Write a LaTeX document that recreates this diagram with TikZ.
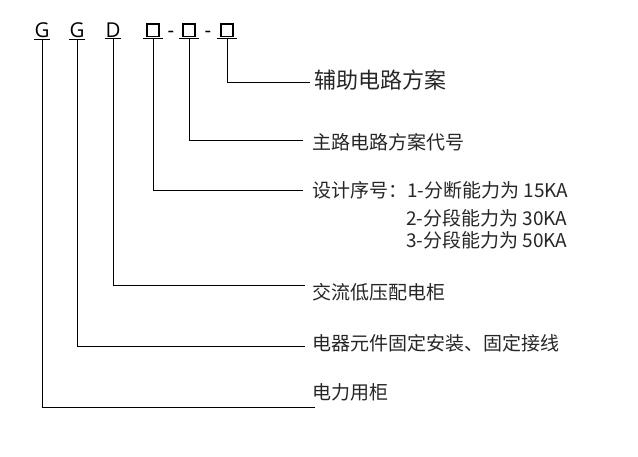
\documentclass[tikz,border=0pt]{standalone}
\usepackage{fontspec}
\usepackage{xcolor}
\usepackage{tikz}
\newfontfamily\cjk{Noto Sans CJK SC}
\newfontfamily\latin{Open Sans}
\newcommand{\slotbox}{{\setlength{\fboxsep}{0pt}\setlength{\fboxrule}{1.6pt}\raisebox{1.5pt}{\fbox{\rule{0pt}{11pt}\hspace{10pt}}}}}

\begin{document}
\begin{tikzpicture}[x=1pt,y=-1pt,
	code/.style={font=\latin\fontsize{20.5}{22}\selectfont, anchor=base, inner xsep=0pt, inner ysep=1.5pt, minimum width=14pt},
	slot/.style={code, minimum width=20pt},
	lbl/.style={font=\cjk\fontsize{19}{22}\selectfont, anchor=west, inner sep=0pt, text=black!85},
	lead/.style={line width=0.8pt}]
	\useasboundingbox (0,0) rectangle (638,456);
		\node[code] (g1) at (42,37) {G};
		\node[code] (g2) at (77,37) {G};
		\node[code] (d) at (113,37) {D};
		\node[slot] (s1) at (153,37) {\slotbox};
		\node[code] (h1) at (171,37) {-};
		\node[slot] (s2) at (189,37) {\slotbox};
		\node[code] (h2) at (208,37) {-};
		\node[slot] (s3) at (227,37) {\slotbox};
		\foreach \n in {g1,g2,d,s1,s2,s3}
			\draw[lead] (\n.south west) -- (\n.south east);

		\node[lbl, font=\cjk\fontsize{22}{24}\selectfont] (a1) at (314,80) {辅助电路方案};
		\node[lbl] (a2) at (312,142) {主路电路方案代号};
		\node[lbl] (a3) at (312,190) {设计序号：1-分断能力为 15KA};
		\node[lbl] (a3b) at (406,218) {2-分段能力为 30KA};
		\node[lbl] (a3c) at (406,240) {3-分段能力为 50KA};
		\node[lbl] (a4) at (312,292) {交流低压配电柜};
		\node[lbl] (a5) at (312,343) {电器元件固定安装、固定接线};
		\node[lbl] (a6) at (312,392) {电力用柜};

		\coordinate (e1) at (310,82);
		\coordinate (e2) at (303,140);
		\coordinate (e3) at (303,190);
		\coordinate (e4) at (305,285);
		\coordinate (e5) at (305,346);
		\coordinate (e6) at (315,407);
		\draw[lead] (s3.south) |- (e1);
		\draw[lead] (s2.south) |- (e2);
		\draw[lead] (s1.south) |- (e3);
		\draw[lead] (d.south) |- (e4);
		\draw[lead] (g2.south) |- (e5);
		\draw[lead] (g1.south) |- (e6);
\end{tikzpicture}
\end{document}
